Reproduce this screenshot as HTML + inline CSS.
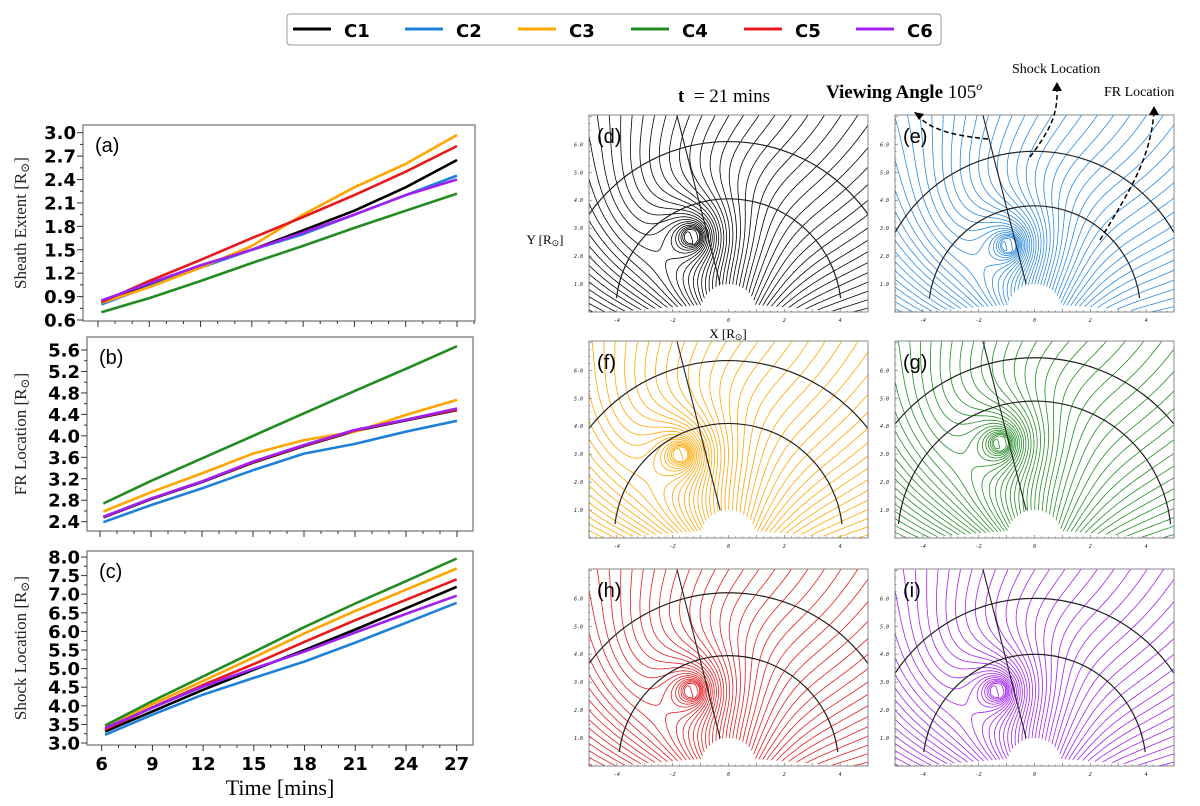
<!DOCTYPE html>
<html><head><meta charset="utf-8"><style>
html,body{margin:0;padding:0;background:#fff;}
svg{display:block;}
.tk{font-family:"DejaVu Sans","Liberation Sans",sans-serif;font-weight:bold;font-size:18px;fill:#000;}
.yl{font-family:"Liberation Serif","DejaVu Serif",serif;font-size:17px;fill:#222;}
.sm{font-family:"DejaVu Sans Mono","Liberation Mono",monospace;font-size:5px;fill:#222;font-style:italic;}
.pl{font-family:"Liberation Sans",sans-serif;font-size:20px;fill:#000;}
</style></head><body>
<svg id="fig" width="1200" height="806" viewBox="0 0 1200 806" xmlns="http://www.w3.org/2000/svg">
<g id="legend">
<rect x="287" y="14" width="654" height="31" rx="3" fill="#fff" stroke="#999" stroke-width="1"/>
</g>
<g id="left"></g>
<g id="right"></g>
<g>
<text x="678" y="102" font-family="Liberation Serif,serif" font-size="19"><tspan font-weight="bold">t</tspan> &#160;= 21 mins</text>
<text x="826" y="98" font-family="Liberation Serif,serif" font-size="19"><tspan font-weight="bold">Viewing Angle</tspan> 105<tspan font-size="12" dy="-8" font-style="italic">o</tspan></text>
<text x="1012" y="73" font-family="Liberation Serif,serif" font-size="14">Shock Location</text>
<text x="1104" y="96" font-family="Liberation Serif,serif" font-size="14">FR Location</text>
<path d="M988,139 C960,136 935,132 920,118" fill="none" stroke="#000" stroke-width="1.5" stroke-dasharray="5,3"/>
<path d="M914,112 l10,2 l-5,6 z" fill="#000"/>
<path d="M1030,157 C1050,130 1058,115 1057,88" fill="none" stroke="#000" stroke-width="1.5" stroke-dasharray="5,3"/>
<path d="M1057,82 l-5,9 l10,0 z" fill="#000"/>
<path d="M1100,240 C1130,190 1150,160 1154,112" fill="none" stroke="#000" stroke-width="1.5" stroke-dasharray="5,3"/>
<path d="M1154,106 l-5,9 l10,0 z" fill="#000"/>
</g>
</svg>
<script>
const NS="http://www.w3.org/2000/svg";
const seriesNames=["C1","C2","C3","C4","C5","C6"];
const seriesColors=["#000000","#1f80d8","#ffa500","#228b22","#e41a1c","#a020f0"];
const times=[6.2,9,12,15,18,21,24,27];
const sheathC1=[0.82,1.05,1.3,1.5,1.75,2.0,2.3,2.65];
const sheathC2=[0.80,1.03,1.27,1.5,1.70,1.95,2.2,2.45];
const sheathC3=[0.82,1.02,1.27,1.55,1.95,2.3,2.6,2.97];
const sheathC4=[0.70,0.88,1.10,1.33,1.55,1.78,2.0,2.22];
const sheathC5=[0.83,1.10,1.37,1.65,1.92,2.2,2.5,2.83];
const sheathC6=[0.85,1.07,1.30,1.50,1.72,1.95,2.2,2.40];
const frC1=[2.48,2.82,3.14,3.50,3.81,4.09,4.29,4.48];
const frC2=[2.39,2.71,3.02,3.36,3.67,3.85,4.08,4.28];
const frC3=[2.59,2.95,3.30,3.67,3.92,4.08,4.39,4.67];
const frC4=[2.74,3.16,3.58,4.00,4.42,4.84,5.25,5.67];
const frC5=[2.49,2.83,3.15,3.51,3.82,4.10,4.30,4.49];
const frC6=[2.49,2.83,3.15,3.52,3.83,4.11,4.30,4.51];
const shockC1=[3.31,3.85,4.43,4.97,5.50,6.05,6.62,7.20];
const shockC2=[3.22,3.76,4.30,4.75,5.19,5.70,6.23,6.77];
const shockC3=[3.42,4.05,4.67,5.30,5.95,6.55,7.12,7.69];
const shockC4=[3.47,4.13,4.79,5.45,6.12,6.75,7.35,7.96];
const shockC5=[3.36,3.96,4.56,5.12,5.72,6.30,6.85,7.40];
const shockC6=[3.40,3.95,4.52,5.00,5.46,5.97,6.47,6.96];
const xTicks=[6,9,12,15,18,21,24,27];
const sheathTicks=["0.6","0.9","1.2","1.5","1.8","2.1","2.4","2.7","3.0"];
const frTicks=["2.4","2.8","3.2","3.6","4.0","4.4","4.8","5.2","5.6"];
const shockTicks=["3.0","3.5","4.0","4.5","5.0","5.5","6.0","6.5","7.0","7.5","8.0"];
const panelLabels=["(d)","(e)","(f)","(g)","(h)","(i)"];
const ropeX=[-1.3,-0.9,-1.7,-1.2,-1.3,-1.3];
const ropeY=[2.7,2.4,3.0,3.4,2.7,2.7];
const innerR=[4.05,3.8,4.1,4.9,3.95,4.0];
const outerR=[6.1,5.75,6.35,6.45,6.2,6.0];

function el(tag,attrs,parent){const e=document.createElementNS(NS,tag);for(const k in attrs)e.setAttribute(k,attrs[k]);(parent||document.getElementById('fig')).appendChild(e);return e;}

const lg=document.getElementById('legend');
const lgX=[293,405,518,631,744,856];
seriesNames.forEach((n,i)=>{
  const g=el('g',{},lg);
  
  
  el('line',{x1:lgX[i],x2:lgX[i]+38,y1:29,y2:29,stroke:seriesColors[i],'stroke-width':3},g);
  const t=el('text',{x:lgX[i]+51,y:37,class:'tk','font-size':'20'},g);t.textContent=n;
});

const left=document.getElementById('left');
function linePanel(cfg){
  const g=el('g',{},left);
  
  
  const X=t=>cfg.x6+(t-6)*(cfg.x27-cfg.x6)/21;
  const Y=v=>cfg.ylo+(v-cfg.vlo)*(cfg.yhi-cfg.ylo)/(cfg.vhi-cfg.vlo);
  const box=el('rect',{x:cfg.bx,y:cfg.by,width:cfg.bw,height:cfg.bh,fill:'none',stroke:'#555','stroke-width':1},g);
  
  
  for(let t=5;t<=28;t++){
    const x=X(t); if(x<cfg.bx||x>cfg.bx+cfg.bw) continue;
    const major=xTicks.includes(t);
    el('line',{x1:x,x2:x,y1:cfg.by+cfg.bh,y2:cfg.by+cfg.bh+(major?6:3),stroke:'#333','stroke-width':1},g);
  }
  if(cfg.xlabels){xTicks.forEach(t=>{const tx=el('text',{x:X(t),y:cfg.by+cfg.bh+25,class:'tk','text-anchor':'middle'},g);tx.textContent=t;
    });}
  const step=parseFloat(cfg.ticks[1])-parseFloat(cfg.ticks[0]);
  cfg.ticks.forEach((s,i)=>{
    const v=parseFloat(s),y=Y(v);
    el('line',{x1:cfg.bx-6,x2:cfg.bx,y1:y,y2:y,stroke:'#333','stroke-width':1},g);
    const ym=Y(v+step/2); if(i<cfg.ticks.length-1) el('line',{x1:cfg.bx-3,x2:cfg.bx,y1:ym,y2:ym,stroke:'#333','stroke-width':1},g);
    const tx=el('text',{x:cfg.bx-7,y:y+6.5,class:'tk','text-anchor':'end'},g);tx.textContent=s;
    
  });
  const cy=cfg.by+cfg.bh/2;
  const yl=el('text',{x:26,y:cy,class:'yl','text-anchor':'middle',transform:`rotate(-90 26 ${cy})`},g);
  yl.innerHTML=cfg.label+' [R<tspan font-size="12" dy="3">⊙</tspan><tspan dy="-3">]</tspan>';
  
  const pl=el('text',{x:cfg.bx+12,y:cfg.by+27,class:'pl'},g);pl.textContent=cfg.tag;
  
  cfg.series.forEach((arr,i)=>{
    const d=arr.map((v,k)=>(k?'L':'M')+X(times[k]).toFixed(1)+','+Y(v).toFixed(1)).join(' ');
    const p=el('path',{d:d,fill:'none',stroke:seriesColors[i],'stroke-width':2.6,'stroke-linejoin':'round'},g);
    
    
  });
}
linePanel({name:'panel-a-sheath-extent',tag:'(a)',label:'Sheath Extent',bx:83,by:125,bw:392,bh:196,x6:98,x27:457,vlo:0.6,ylo:320,vhi:3.0,yhi:132.7,ticks:sheathTicks,
  series:[sheathC1,sheathC2,sheathC3,sheathC4,sheathC5,sheathC6]});
linePanel({name:'panel-b-fr-location',tag:'(b)',label:'FR Location',bx:87,by:337,bw:386,bh:194,x6:100,x27:457,vlo:2.4,ylo:521.7,vhi:5.6,yhi:350,ticks:frTicks,
  series:[frC1,frC2,frC3,frC4,frC5,frC6]});
linePanel({name:'panel-c-shock-location',tag:'(c)',label:'Shock Location',bx:87,by:551,bw:386,bh:194,x6:101.7,x27:456.7,vlo:3.0,ylo:743,vhi:8.0,yhi:557,ticks:shockTicks,xlabels:true,
  series:[shockC1,shockC2,shockC3,shockC4,shockC5,shockC6]});
{const t=el('text',{x:280,y:795,'text-anchor':'middle','font-family':'Liberation Serif,serif','font-size':'22'});
 t.textContent='Time [mins]';}

const right=document.getElementById('right');
const panelPos=[[589,115],[895,115],[589,341],[895,341],[589,569],[895,569]];
const fieldColors=["#000000","#2a8ae0","#ffa500","#228b22","#e41a1c","#a020f0"];
function fieldPanel(k){
  const [bx,by]=panelPos[k],bw=279,bh=197;
  const sx=bw/10, sy=bh/7.05;
  const X=x=>bx+(x+5)*sx, Y=y=>by+bh-y*sy;
  const g=el('g',{},right);
  
  
  const cid='clip'+k;
  const cp=el('clipPath',{id:cid},g);el('rect',{x:bx,y:by,width:bw,height:bh},cp);
  const rx=ropeX[k],ry=ropeY[k];
  const psi=(x,y)=>{
    const dr=Math.max(Math.hypot(x-rx,y-ry),0.25);
    const w=Math.exp(-((x-rx)*(x-rx)+(y-ry)*(y-ry))/12);
    return Math.atan2(x,y+1.6)+0.36*Math.log(dr)*w;};
  const nx=130,ny=92,dx=10/nx,dy=7.05/ny;
  const V=[];for(let j=0;j<=ny;j++){V.push([]);for(let i=0;i<=nx;i++)V[j].push(psi(-5+i*dx,j*dy));}
  let d='';
  for(let L=-2.0;L<=1.7;L+=0.05){
    for(let j=0;j<ny;j++)for(let i=0;i<nx;i++){
      const a=V[j][i],b=V[j][i+1],c=V[j+1][i+1],e=V[j+1][i];
      const x0=-5+i*dx,y0=j*dy,pts=[];
      if((a-L)*(b-L)<0)pts.push([x0+dx*(L-a)/(b-a),y0]);
      if((b-L)*(c-L)<0)pts.push([x0+dx,y0+dy*(L-b)/(c-b)]);
      if((e-L)*(c-L)<0)pts.push([x0+dx*(L-e)/(c-e),y0+dy]);
      if((a-L)*(e-L)<0)pts.push([x0,y0+dy*(L-a)/(e-a)]);
      for(let q=0;q+1<pts.length;q+=2)d+='M'+X(pts[q][0]).toFixed(1)+','+Y(pts[q][1]).toFixed(1)+'L'+X(pts[q+1][0]).toFixed(1)+','+Y(pts[q+1][1]).toFixed(1);
    }
  }
  const fl=el('path',{d:d,fill:'none',stroke:fieldColors[k],'stroke-width':0.8,'clip-path':`url(#${cid})`},g);
  
  el('path',{d:`M${X(-1)},${Y(0)} A${sx},${sy} 0 0 1 ${X(1)},${Y(0)} Z`,fill:'#fff'},g);
  el('path',{d:`M${X(-5)},${Y(0)} L${X(-4.2)},${Y(0)} L${X(-1)},${Y(0.25)} L${X(1)},${Y(0.25)} L${X(4.2)},${Y(0)} L${X(5)},${Y(0)} Z`,fill:'#fff'},g);
  [innerR[k],outerR[k]].forEach((R,ai)=>{
    const y0=0.5,x0=Math.sqrt(Math.max(R*R-y0*y0,0));
    const ar=el('path',{d:`M${X(-x0)},${Y(y0)} A${R*sx},${R*sy} 0 0 1 ${X(x0)},${Y(y0)}`,fill:'none',stroke:'#222','stroke-width':1.2,'clip-path':`url(#${cid})`},g);
    
  });
  const sl=el('line',{x1:X(-0.3),y1:Y(1.0),x2:X(-1.85),y2:Y(7.05),stroke:'#222','stroke-width':1.1},g);
  
  const bxr=el('rect',{x:bx,y:by,width:bw,height:bh,fill:'none',stroke:'#888','stroke-width':1},g);
  
  for(let x=-5;x<=5.001;x+=0.25)el('line',{x1:X(x),x2:X(x),y1:by+bh,y2:by+bh-(Math.abs(x-Math.round(x))<0.01?3:1.5),stroke:'#666','stroke-width':0.6},g);
  for(let y=0;y<=7;y+=0.25)el('line',{x1:bx,x2:bx+(Math.abs(y-Math.round(y))<0.01?3:1.5),y1:Y(y),y2:Y(y),stroke:'#666','stroke-width':0.6},g);
  [-4,-2,0,2,4].forEach(v=>{const t=el('text',{x:X(v),y:by+bh+10,class:'sm','text-anchor':'middle'},g);t.textContent=v;});
  [1,2,3,4,5,6].forEach(v=>{const t=el('text',{x:bx-6,y:Y(v)+2,class:'sm','text-anchor':'end'},g);t.textContent=v.toFixed(1);});
  const pl=el('text',{x:bx+8,y:by+28,class:'pl','font-size':'22'},g);pl.textContent=panelLabels[k];
  
}
for(let k=0;k<6;k++)fieldPanel(k);
{const t=el('text',{x:728,y:338,'text-anchor':'middle','font-family':'Liberation Serif,serif','font-size':'13'});
 t.innerHTML='X [R<tspan font-size="9" dy="2">⊙</tspan><tspan dy="-2">]</tspan>';
 const u=el('text',{x:545,y:244,'text-anchor':'middle','font-family':'Liberation Serif,serif','font-size':'13'});
 u.innerHTML='Y [R<tspan font-size="9" dy="2">⊙</tspan><tspan dy="-2">]</tspan>';}
</script>
</body></html>
